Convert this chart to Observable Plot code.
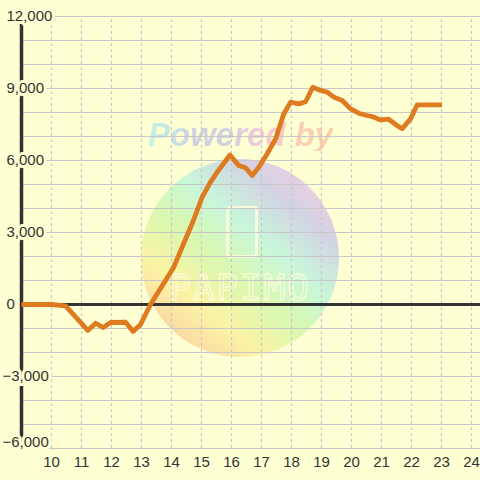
<!DOCTYPE html>
<html>
<head>
<meta charset="utf-8">
<script src="https://cdn.jsdelivr.net/npm/d3@7"></script>
<script src="https://cdn.jsdelivr.net/npm/@observablehq/plot@0.6"></script>
<style>
  html, body { margin: 0; padding: 0; background: #ffffd4; }
  #wrap { position: relative; width: 480px; height: 480px; overflow: hidden; }
  #wm { position: absolute; left: 0; top: 0; width: 480px; height: 480px; z-index: 0; }
  #chart { position: absolute; left: 0; top: 0; z-index: 1; }
  .circle { position: absolute; left: 141px; top: 159px; width: 198px; height: 198px; border-radius: 50%;
    background: linear-gradient(40deg, #fbcda4 8%, #fbf4a4 28%, #d8f8b2 45%, #c8f6da 60%, #d3d3e3 76%, #f8cbe0 94%); }
  .powered { position: absolute; left: 148px; top: 118px; font: italic bold 33px/33px "Liberation Sans", Arial, sans-serif;
    background: linear-gradient(90deg, #c4f4e2 0%, #ccd2e2 25%, #d6cfe0 45%, #f6c8da 62%, #f9cdb8 80%, #fcd2a8 100%);
    -webkit-background-clip: text; background-clip: text; color: transparent; white-space: pre; }
  .phone { position: absolute; left: 226px; top: 206px; width: 26px; height: 46px; border: 3px solid #fffbdc; border-radius: 4px; opacity: 0.85; }
  .papimo { position: absolute; left: 168px; top: 270px; width: 144px; text-align: center;
    font: 300 36px/36px "DejaVu Sans Mono", monospace; letter-spacing: 2px; color: transparent;
    -webkit-text-stroke: 1.3px #fffbdc; opacity: 0.9; }
</style>
</head>
<body>
<div id="wrap">
  <div id="wm">
    <div class="circle"></div>
    <div class="powered">Powered by</div>
    <div class="phone"></div>
    <div class="papimo">PAPIMO</div>
  </div>
  <div id="chart"></div>
</div>
<script>
// Series (x = hour of day, y = value)
const hours = [9.0, 10.0, 10.47, 11.21, 11.47, 11.72, 11.97, 12.47, 12.72, 12.97, 13.3, 14.07, 14.73, 15.02, 15.3, 15.52, 15.95,
  16.24, 16.47, 16.69, 16.91, 17.19, 17.47, 17.74, 17.97, 18.24, 18.47, 18.71, 18.97, 19.19, 19.41, 19.69, 19.97,
  20.24, 20.52, 20.69, 20.97, 21.24, 21.47, 21.69, 21.97, 22.19, 23.02];
const values = [0, 0, -60, -1080, -780, -960, -750, -740, -1120, -830, 0, 1540, 3500, 4470, 5100, 5510, 6230,
  5790, 5700, 5375, 5720, 6280, 6900, 7940, 8430, 8360, 8450, 9050, 8920, 8850, 8640, 8500, 8150,
  7970, 7875, 7830, 7690, 7720, 7500, 7320, 7740, 8320, 8320];

const xTicks = [10, 11, 12, 13, 14, 15, 16, 17, 18, 19, 20, 21, 22, 23, 24];
const yTicks = [-6000, -3000, 0, 3000, 6000, 9000, 12000];
const yGrid = [-6000, -5000, -4000, -3000, -2000, -1000, 0, 1000, 2000, 3000, 4000, 5000, 6000, 7000, 8000, 9000, 10000, 11000, 12000];

const data = hours.map((h, i) => ({x: h, y: values[i]}));
const bg = "#ffffd4";
const fmt = d3.format(",");
const labelStyle = {fill: "#333", stroke: bg, strokeWidth: 6, paintOrder: "stroke", fontSize: 15, textAnchor: "start"};

const chart = Plot.plot({
  width: 480,
  height: 480,
  marginLeft: 21,
  marginRight: 0,
  marginTop: 16,
  marginBottom: 32,
  style: {background: "transparent", fontFamily: "'Liberation Sans', Arial, sans-serif", fontSize: "15px"},
  x: {domain: [9, 24.3], axis: null},
  y: {domain: [-6000, 12000], axis: null},
  marks: [
    Plot.ruleY(yGrid, {stroke: "#c8c8c8", strokeWidth: 1.2}),
    Plot.ruleX(xTicks, {y1: -6000, y2: 12000, stroke: "#c8c8c8", strokeWidth: 1.2, strokeDasharray: "3,3"}),
    Plot.ruleY([0], {stroke: "#333", strokeWidth: 3}),
    Plot.ruleX([9], {y1: -6000, y2: 12000, stroke: "#333", strokeWidth: 3.5}),
    Plot.line(data, {x: "x", y: "y", stroke: "#de7a20", strokeWidth: 4.8, strokeLinejoin: "round", strokeLinecap: "butt"}),
    Plot.text(yTicks.filter(d => d >= 0), {x: () => 9, y: d => d, text: d => fmt(d), dx: -15, ...labelStyle}),
    Plot.text(yTicks.filter(d => d < 0 && d > -6000), {x: () => 9, y: d => d, text: d => fmt(d), dx: -19, ...labelStyle}),
    Plot.text(yTicks.filter(d => d === -6000), {x: () => 9, y: d => d, text: d => fmt(d), dx: -19, dy: -6, ...labelStyle}),
    Plot.text(xTicks, {x: d => d, y: () => -6000, text: d => String(d), dy: 14, fill: "#333", fontSize: 15})
  ]
});
document.getElementById("chart").appendChild(chart);
</script>
</body>
</html>
